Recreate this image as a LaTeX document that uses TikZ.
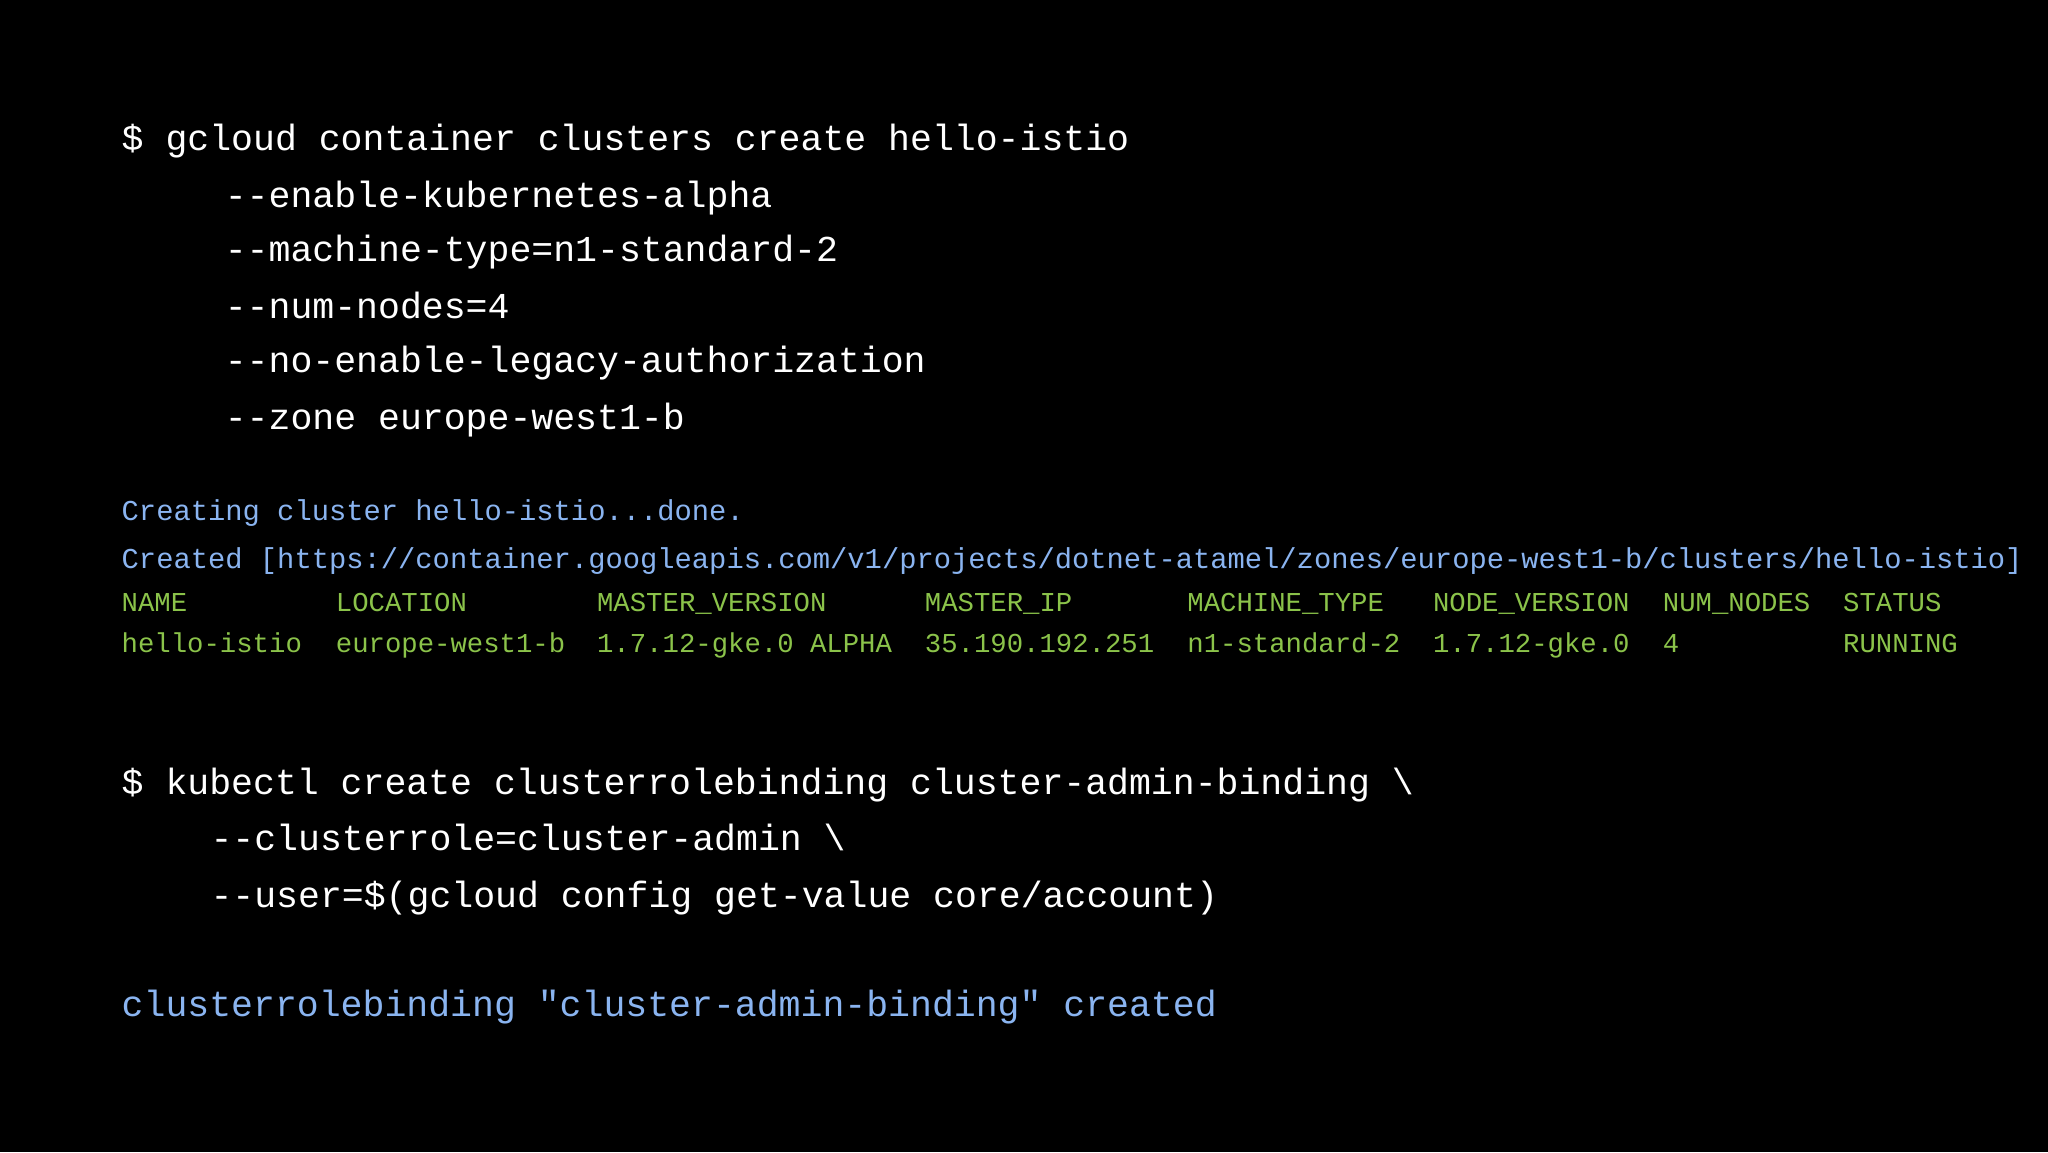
\documentclass[tikz,border=0pt]{standalone}
\usepackage{fontspec}
\setmonofont{Liberation Mono}
\definecolor{cblue}{HTML}{8AB4F0}
\definecolor{cgreen}{HTML}{8BC34A}
\begin{document}
\begin{tikzpicture}[x=1pt,y=-1pt,
  big/.style={anchor=mid west,inner sep=0pt,text=white,font=\ttfamily\fontsize{36.5}{40}\selectfont},
  blu/.style={anchor=mid west,inner sep=0pt,text=cblue,font=\ttfamily\fontsize{28.8}{32}\selectfont},
  grn/.style={anchor=mid west,inner sep=0pt,text=cgreen,font=\ttfamily\fontsize{27.3}{30}\selectfont}]
\fill[black] (0,0) rectangle (2048,1152);
\useasboundingbox (0,0) rectangle (2048,1152);
\begin{scope}[shift={(0,9)}]
\node[big] (c1) at (121.5,139.7) {\$ gcloud container clusters create hello-istio};
\node[big] (c2) at (224.6,195.9) {-{}-enable-kubernetes-alpha};
\node[big] (c3) at (224.6,250.8) {-{}-machine-type=n1-standard-2};
\node[big] (c4) at (224.6,306.9) {-{}-num-nodes=4};
\node[big] (c5) at (224.6,361.8) {-{}-no-enable-legacy-authorization};
\node[big] (c6) at (224.6,417.9) {-{}-zone europe-west1-b};
\node[blu] (b1) at (121.5,509.4) {Creating cluster hello-istio...done.};
\node[blu] (b2) at (121.5,557.7) {Created [https://container.googleapis.com/v1/projects/dotnet-atamel/zones/europe-west1-b/clusters/hello-istio]};
\foreach \x/\h/\v [count=\i] in {121.5/NAME/hello-istio,335.7/LOCATION/europe-west1-b,596.9/MASTER\_VERSION/1.7.12-gke.0 ALPHA,924.7/MASTER\_IP/35.190.192.251,1187.2/MACHINE\_TYPE/n1-standard-2,1432.8/NODE\_VERSION/1.7.12-gke.0,1662.7/NUM\_NODES/4,1842.9/STATUS/RUNNING}{
  \node[grn] (h\i) at (\x,600.8) {\h};
  \node[grn] (v\i) at (\x,641.3) {\v};
}
\node[big] (k1) at (121.5,783.7) {\$ kubectl create clusterrolebinding cluster-admin-binding \textbackslash};
\node[big] (k2) at (210.3,839.8) {-{}-clusterrole=cluster-admin \textbackslash};
\node[big] (k3) at (210.3,896) {-{}-user=\$(gcloud config get-value core/account)};
\node[big,text=cblue] (r1) at (121.5,1005.7) {clusterrolebinding "cluster-admin-binding" created};
\end{scope}
\end{tikzpicture}
\end{document}
